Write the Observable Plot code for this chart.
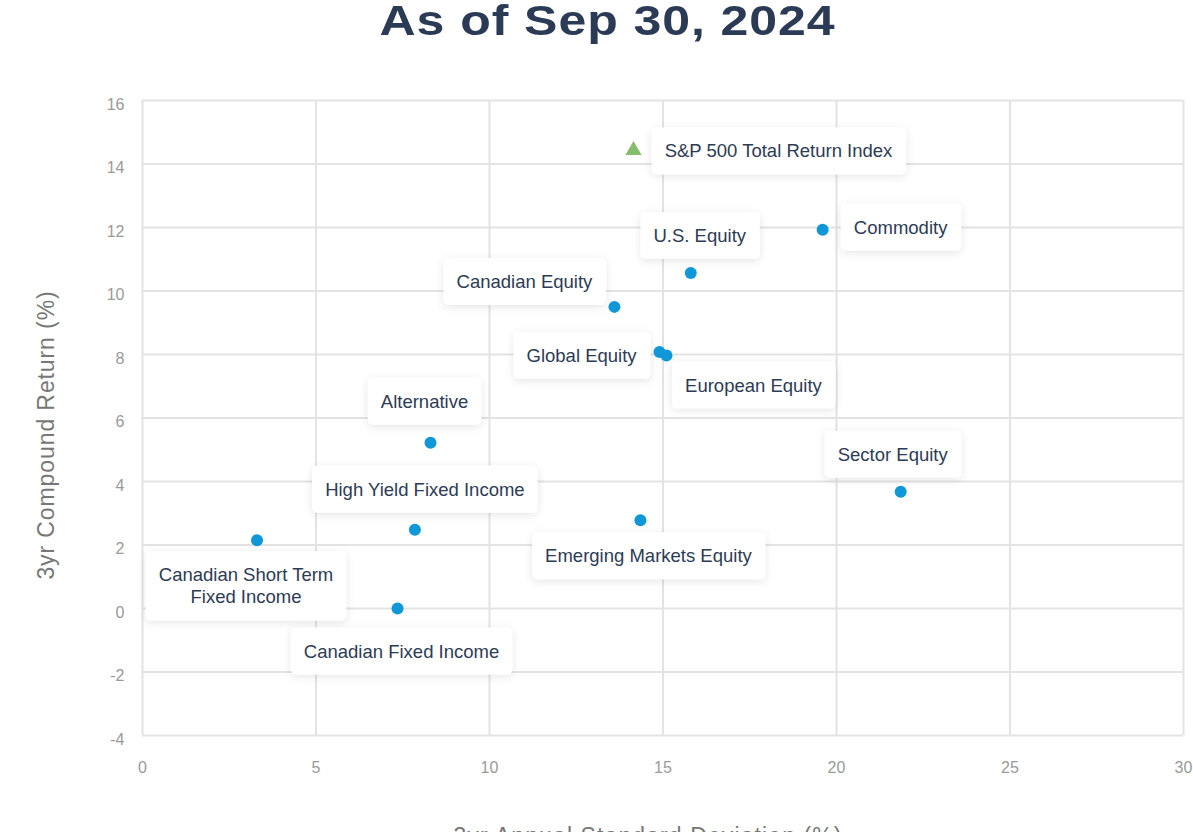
<!DOCTYPE html>
<html>
<head>
<meta charset="utf-8">
<script src="https://cdn.jsdelivr.net/npm/d3@7"></script>
<script src="https://cdn.jsdelivr.net/npm/@observablehq/plot@0.6"></script>
<style>
  html, body { margin: 0; padding: 0; background: #fff; overflow: hidden; width: 1193px; height: 832px; }
  #wrap { position: relative; width: 1193px; height: 832px; }
  #title { position: absolute; left: 0; top: 0px; width: 1215px; text-align: center;
           font-family: "Liberation Sans", Arial, Helvetica, sans-serif; font-size: 42px; line-height: 42px;
           font-weight: 700; letter-spacing: 0.8px; color: #2b3a55;
           transform: scaleX(1.19); transform-origin: 607px 0; white-space: nowrap; }
  #chart { position: absolute; left: 0; top: 0; }
  #chart svg { overflow: visible; }
</style>
</head>
<body>
<div id="wrap">
  <div id="title">As of Sep 30, 2024</div>
  <div id="chart"></div>
</div>
<script>
// ---- data ----
const categories = [
  "Commodity", "U.S. Equity", "Canadian Equity", "Global Equity", "European Equity",
  "Alternative", "Sector Equity", "High Yield Fixed Income", "Emerging Markets Equity",
  "Canadian Short Term\nFixed Income", "Canadian Fixed Income"
];
const stdDev = [19.6, 15.8, 13.6, 14.9, 15.1, 8.3, 21.85, 7.85, 14.35, 3.3, 7.35];
const compoundReturn = [11.93, 10.57, 9.5, 8.08, 7.97, 5.22, 3.68, 2.48, 2.78, 2.15, 0.0];

const benchmarkName = ["S&P 500 Total Return Index"];
const benchmarkStdDev = [14.15];
const benchmarkReturn = [14.43];

const xTicks = [0, 5, 10, 15, 20, 25, 30];
const yTicks = [-4, -2, 0, 2, 4, 6, 8, 10, 12, 14, 16];
const xTitle = "3yr Annual Standard Deviation (%)";
const yTitle = "3yr Compound Return (%)";

// ---- build tables ----
const funds = categories.map((name, i) => ({name, x: stdDev[i], y: compoundReturn[i]}));
const bench = benchmarkName.map((name, i) => ({name, x: benchmarkStdDev[i], y: benchmarkReturn[i]}));
const allLabels = [...bench, ...funds];

// label placement (pixel offsets of label centre from the point)
const labelOffset = {
  "S&P 500 Total Return Index": [145, 0],
  "Commodity": [78, -3],
  "U.S. Equity": [9, -38],
  "Canadian Equity": [-90, -26],
  "Global Equity": [-78, 3],
  "European Equity": [87, 29],
  "Alternative": [-6, -42],
  "Sector Equity": [-8, -38],
  "High Yield Fixed Income": [10, -41],
  "Emerging Markets Equity": [8, 35],
  "Canadian Short Term\nFixed Income": [-11, 45],
  "Canadian Fixed Income": [4, 42]
};

const font = '"Liberation Sans", Arial, Helvetica, sans-serif';
const labelMarks = allLabels.map(d => Plot.text([d], {
  x: "x", y: "y", text: "name",
  dx: labelOffset[d.name][0], dy: labelOffset[d.name][1],
  textAnchor: "middle", lineAnchor: "middle", lineHeight: 1.2,
  fontSize: 18.5, fill: "#2d3b55"
}));

const chart = Plot.plot({
  width: 1193,
  height: 850,
  marginTop: 100,
  marginBottom: 115,
  marginLeft: 142,
  marginRight: 10,
  style: {fontFamily: font, background: "transparent"},
  x: {domain: [0, 30], label: null},
  y: {domain: [-4, 16], label: null},
  marks: [
    Plot.gridX(xTicks, {stroke: "#e3e3e3", strokeOpacity: 1, strokeWidth: 2}),
    Plot.gridY(yTicks, {stroke: "#e3e3e3", strokeOpacity: 1, strokeWidth: 2}),
    Plot.axisX(xTicks, {tickSize: 0, tickPadding: 26, fontSize: 16, fill: "#9a9a9a", label: null, tickFormat: d => String(d)}),
    Plot.axisY(yTicks, {tickSize: 0, tickPadding: 18, fontSize: 16, fill: "#9a9a9a", dy: 4, label: null, tickFormat: d => String(d)}),
    Plot.text([xTitle], {frameAnchor: "bottom", textAnchor: "middle", dy: 108, dx: -15, fontSize: 23, fill: "#777", text: d => d}),
    Plot.text([yTitle], {frameAnchor: "left", textAnchor: "middle", rotate: -90, dx: -96, dy: 17, fontSize: 23, fill: "#777", text: d => d}),
    ...labelMarks,
    Plot.dot(funds, {x: "x", y: "y", r: 6, fill: "#0f97d7", stroke: "none"}),
    Plot.dot(bench, {x: "x", y: "y", r: 6, symbol: "triangle", fill: "#86bd6b", stroke: "none"})
  ]
});

document.getElementById("chart").appendChild(chart);

const ns = "http://www.w3.org/2000/svg";
const svg = chart.tagName.toLowerCase() === "svg" ? chart : chart.querySelector("svg");

// wider tracking on the axis titles
Array.from(svg.querySelectorAll("text")).forEach(t => {
  if (t.textContent === xTitle) t.style.letterSpacing = "1.1px";
  if (t.textContent === yTitle) t.style.letterSpacing = "0.9px";
});

// label boxes with soft shadow
const defs = document.createElementNS(ns, "defs");
defs.innerHTML = '<filter id="lblShadow" x="-20%" y="-40%" width="140%" height="180%">' +
  '<feDropShadow dx="0" dy="2" stdDeviation="4" flood-color="#000" flood-opacity="0.10"/></filter>';
svg.insertBefore(defs, svg.firstChild);
const names = new Set(allLabels.map(d => d.name.replace(/\n/g, "")));
Array.from(svg.querySelectorAll("text")).forEach(t => {
  if (!names.has(t.textContent.replace(/\n/g, ""))) return;
  const b = t.getBBox();
  const r = document.createElementNS(ns, "rect");
  r.setAttribute("x", b.x - 13);
  r.setAttribute("y", b.y - 13);
  r.setAttribute("width", b.width + 26);
  r.setAttribute("height", b.height + 26);
  r.setAttribute("rx", 5);
  r.setAttribute("fill", "#ffffff");
  r.setAttribute("stroke", "none");
  r.setAttribute("filter", "url(#lblShadow)");
  if (t.getAttribute("transform")) r.setAttribute("transform", t.getAttribute("transform"));
  t.parentNode.insertBefore(r, t);
});
</script>
</body>
</html>
